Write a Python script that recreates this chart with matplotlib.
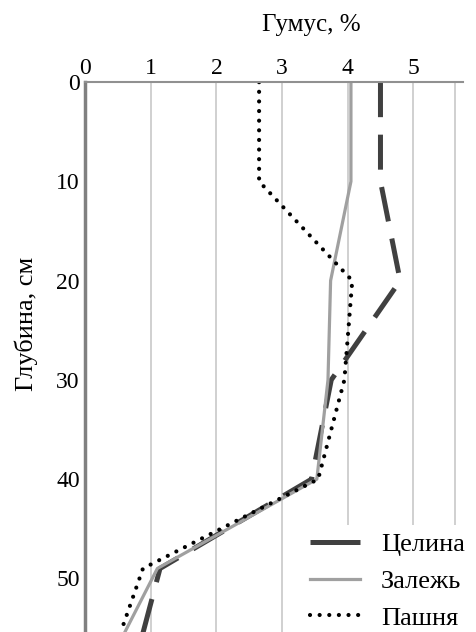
import matplotlib
matplotlib.use("Agg")
import matplotlib.pyplot as plt
from matplotlib.lines import Line2D

plt.rcParams['font.family'] = ['Liberation Serif', 'DejaVu Serif']

depth = [0, 10, 20, 30, 40, 49, 60]
celina = [4.5, 4.5, 4.8, 3.75, 3.45, 1.14, 0.7]
zalezh = [4.05, 4.05, 3.74, 3.7, 3.53, 1.1, 0.25]
pashnya = [2.65, 2.65, 4.07, 3.95, 3.55, 0.88, 0.3]
series_names = ['Целина', 'Залежь', 'Пашня']
xticks = [0, 1, 2, 3, 4, 5]
yticks = [0, 10, 20, 30, 40, 50]

fig = plt.figure(figsize=(4.76, 6.32), dpi=100)
ax = fig.add_axes([0.179, 0.0, 0.794, 0.870])

for xv in [1, 2, 3, 4, 5, 5.64]:
    ax.axvline(xv, color='#c8c8c8', lw=1.2, zorder=0)

ax.plot(celina, depth, color='#404040', lw=3.6, dashes=(7, 3.5),
        dash_capstyle='butt')
ax.plot(zalezh, depth, color='#a0a0a0', lw=2.3)
ax.plot(pashnya, depth, color='black', lw=3.0, linestyle=(0, (0.01, 2.3)),
        dash_capstyle='round')

ax.set_xlim(0, 5.76)
ax.set_ylim(55.4, 0)
ax.xaxis.tick_top()
ax.xaxis.set_label_position('top')
ax.set_xticks(xticks)
ax.set_yticks(yticks)
ax.tick_params(axis='both', length=0, labelsize=17, pad=2)
ax.tick_params(axis='y', pad=4)
for s in ['right', 'bottom']:
    ax.spines[s].set_visible(False)
ax.spines['left'].set_color('#808080')
ax.spines['left'].set_linewidth(2.5)
ax.spines['top'].set_color('#909090')
ax.spines['top'].set_linewidth(1.5)

ax.set_ylabel('Глубина, см', fontsize=19)
ax.yaxis.set_label_coords(-0.124, 0.56)
fig.text(0.655, 0.960, 'Гумус, %', fontsize=18, ha='center', va='center')

handles = [
    Line2D([], [], color='#404040', lw=3.6, solid_capstyle='butt'),
    Line2D([], [], color='#a0a0a0', lw=2.3),
    Line2D([], [], color='black', lw=3.0, linestyle=(0, (0.01, 2.3)),
           dash_capstyle='round'),
]
leg = ax.legend(handles, series_names, loc='lower right',
                bbox_to_anchor=(1.025, -0.01), frameon=True,
                fontsize=19, handlelength=1.9, handletextpad=0.8,
                borderaxespad=0.0, borderpad=0.3, labelspacing=0.5,
                facecolor='white', edgecolor='white', framealpha=1)
leg.get_frame().set_linewidth(0)

fig.savefig('out.png', dpi=100)
